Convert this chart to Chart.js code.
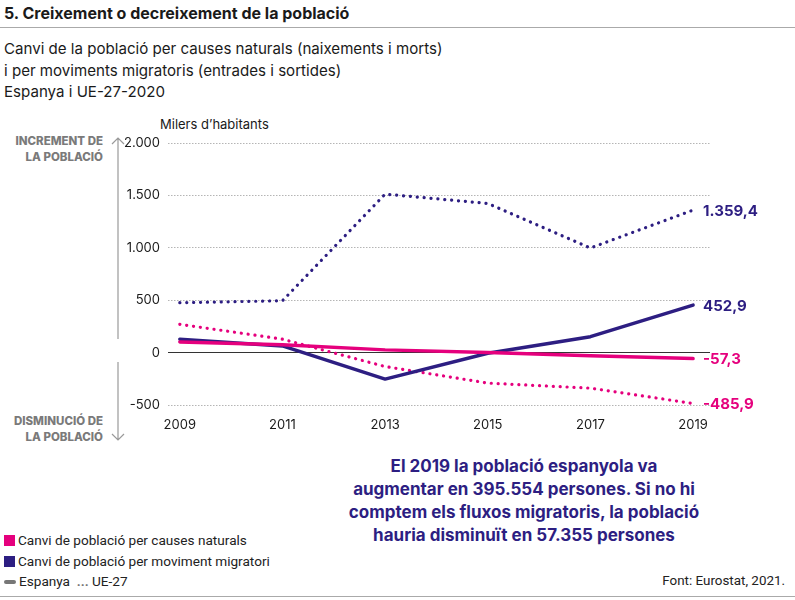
<!DOCTYPE html>
<html>
<head>
<meta charset="utf-8">
<script src="https://cdn.jsdelivr.net/npm/chart.js@4/dist/chart.umd.min.js"></script>
<style>
  body { margin: 0; background: #fff; font-family: Inter, "Open Sans", sans-serif; color: #1a1a1a; }
  #wrap { position: relative; width: 795px; height: 600px; overflow: hidden; }
  #wrap div { position: absolute; white-space: nowrap; }
  canvas { position: absolute; left: 0; top: 0; }
  .title { left: 4px; top: 3px; font-size: 16px; font-weight: 700; }
  .rule { left: 0; width: 795px; height: 0; border-top: 1.5px solid #aaa; }
  .sub { left: 4px; font-size: 15.1px; line-height: 21.5px; top: 38px; }
  .unit { left: 160px; top: 116px; font-size: 13px; }
  .side { right: 692px; text-align: right; font-size: 11.5px; font-weight: 800; color: #7a7a7a; line-height: 15.5px; }
  .note { left: 334px; width: 380px; top: 455px; text-align: center; font-size: 17px; font-weight: 700; color: #2d1e82; line-height: 23px; }
  .leg { left: 4px; font-size: 13.6px; font-family: Roboto, sans-serif; color: #222; }
  .sq { display: inline-block; width: 11px; height: 11px; margin-right: 3px; vertical-align: -1px; }
  .src { right: 10px; top: 573px; font-size: 13.4px; font-family: Roboto, sans-serif; color: #222; }
</style>
</head>
<body>
<div id="wrap">
  <div class="title">5. Creixement o decreixement de la població</div>
  <div class="rule" style="top:27px"></div>
  <div class="sub">Canvi de la població per causes naturals (naixements i morts)<br>i per moviments migratoris (entrades i sortides)<br>Espanya i UE-27-2020</div>
  <div class="unit">Milers d’habitants</div>
  <div class="side" style="top:134px">INCREMENT DE<br>LA POBLACIÓ</div>
  <div class="side" style="top:414px">DISMINUCIÓ DE<br>LA POBLACIÓ</div>
  <div class="note">El 2019 la població espanyola va<br>augmentar en 395.554 persones. Si no hi<br>comptem els fluxos migratoris, la població<br>hauria disminuït en 57.355 persones</div>
  <div class="leg" style="top:532px"><span class="sq" style="background:#e5007d"></span>Canvi de població per causes naturals</div>
  <div class="leg" style="top:553px"><span class="sq" style="background:#2d1e82"></span>Canvi de població per moviment migratori</div>
  <div class="leg" style="top:573px"><span style="display:inline-block;width:12px;height:4px;border-radius:2px;background:#777;vertical-align:2px;margin-right:3px"></span>Espanya &nbsp;<span style="color:#777;font-weight:700">...</span> UE-27</div>
  <div class="src">Font: Eurostat, 2021.</div>
  <div class="rule" style="top:596px"></div>
  <canvas id="myChart" width="795" height="600"></canvas>
</div>
<script>
// years and values (thousands of people)
var years = [2009, 2011, 2013, 2015, 2017, 2019];
var espNatural = [102, 75, 26, 0, -29, -57.3];
var espMigratori = [128, 64, -253, -6, 152, 452.9];
var ueNatural = [270, 128, -133, -291, -339, -485.9];
var ueMigratori = [476, 495, 1512, 1423, 998, 1359.4];
var yTicks = [-500, 0, 500, 1000, 1500, 2000];

var pink = "#e5007d";
var navy = "#2d1e82";

// catalan number format: 1.359,4
function fmt(v, dec) {
  var s = Math.abs(v).toFixed(dec).split(".");
  var int = s[0].replace(/\B(?=(\d{3})+(?!\d))/g, ".");
  return (v < 0 ? "-" : "") + int + (s[1] ? "," + s[1] : "");
}

function pts(arr) {
  return years.map(function (y, i) { return { x: y, y: arr[i] }; });
}

function line(label, arr, color, dotted) {
  return {
    label: label,
    data: pts(arr),
    borderColor: color,
    backgroundColor: color,
    borderWidth: dotted ? 3.2 : 3.5,
    borderDash: dotted ? [0.1, 6.8] : [],
    borderCapStyle: "round",
    borderJoinStyle: "round",
    pointRadius: 0,
    tension: 0,
  };
}

// value at end of each line
var endLabels = {
  id: "endLabels",
  afterDatasetsDraw: function (chart) {
    var c = chart.ctx;
    c.save();
    c.font = "bold 15px Inter, sans-serif";
    c.textBaseline = "middle";
    chart.data.datasets.forEach(function (ds, i) {
      var meta = chart.getDatasetMeta(i);
      var last = meta.data[meta.data.length - 1];
      var v = ds.data[ds.data.length - 1].y;
      c.fillStyle = ds.borderColor;
      c.fillText(fmt(v, 1), last.x + 10, last.y + 1);
    });
    c.restore();
  },
};

// the two grey arrows on the left
var sideArrows = {
  id: "sideArrows",
  afterDraw: function (chart) {
    var c = chart.ctx;
    var x = 118;
    c.save();
    c.strokeStyle = "#9a9a9a";
    c.lineWidth = 1.2;
    c.beginPath();
    c.moveTo(x, 138); c.lineTo(x, 339);
    c.moveTo(x - 6, 144); c.lineTo(x, 138); c.lineTo(x + 6, 144);
    c.moveTo(x, 362); c.lineTo(x, 440);
    c.moveTo(x - 6, 434); c.lineTo(x, 440); c.lineTo(x + 6, 434);
    c.stroke();
    c.restore();
  },
};

var ctx = document.getElementById("myChart").getContext("2d");
var myChart = new Chart(ctx, {
  type: "line",
  data: {
    datasets: [
      line("Espanya - causes naturals", espNatural, pink, false),
      line("Espanya - moviment migratori", espMigratori, navy, false),
      line("UE-27 - causes naturals", ueNatural, pink, true),
      line("UE-27 - moviment migratori", ueMigratori, navy, true),
    ],
  },
  options: {
    responsive: false,
    animation: false,
    layout: { padding: { top: 143, right: 85, bottom: 165, left: 0 } },
    plugins: { legend: { display: false }, tooltip: { enabled: false } },
    scales: {
      x: {
        type: "linear",
        min: 2008.77,
        max: 2019.33,
        afterBuildTicks: function (s) {
          s.ticks = years.map(function (y) { return { value: y }; });
        },
        afterFit: function (s) { s.height = 30; },
        grid: { display: false, drawTicks: false },
        border: { display: false },
        ticks: {
          padding: 12,
          color: "#1a1a1a",
          font: { family: "Inter, sans-serif", size: 13 },
          callback: function (v) { return String(v); },
        },
      },
      y: {
        min: -500,
        max: 2000,
        afterBuildTicks: function (s) {
          s.ticks = yTicks.map(function (v) { return { value: v }; });
        },
        afterFit: function (s) { s.width = 168; },
        grid: {
          drawTicks: false,
          color: function (c) { return c.tick && c.tick.value === 0 ? "#333" : "#b5b5b5"; },
          lineWidth: 1,
        },
        border: {
          display: false,
          dash: function (c) { return c.tick && c.tick.value === 0 ? [] : [1.5, 1.5]; },
        },
        ticks: {
          padding: 8,
          color: "#1a1a1a",
          font: { family: "Inter, sans-serif", size: 13 },
          callback: function (v) { return fmt(v, 0); },
        },
      },
    },
  },
  plugins: [endLabels, sideArrows],
});
</script>
</body>
</html>
